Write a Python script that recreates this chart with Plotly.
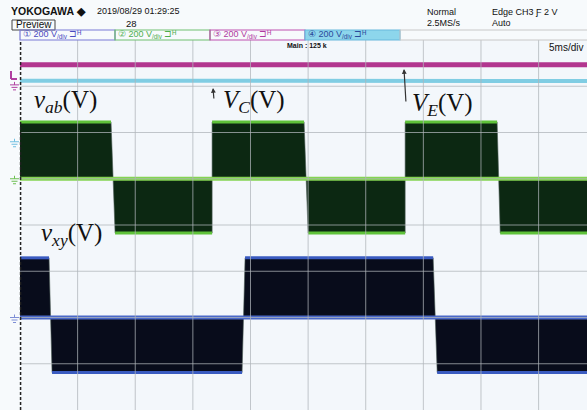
import plotly.graph_objects as go

T_END_MS = 49.2            # visible time span, 5 ms/div
VOLT_PER_DIV = 200

# CH2 : v_ab (green) - segments
vab_t_start = [0.0, 8.25, 16.67, 25.0, 33.42, 41.67]
vab_t_end = [7.9, 16.67, 24.65, 33.42, 41.4, 49.2]
vab_level = [245, -235, 245, -235, 245, -235]

# CH1 : v_xy (blue) - segments
vxy_t_start = [0.0, 2.78, 19.53, 36.2]
vxy_t_end = [2.52, 19.27, 35.85, 49.2]
vxy_level = [258, -238, 258, -238]

# CH4 : V_C (cyan) and CH3 : V_E (magenta)
vc_t = [0, 10, 20, 30, 40, 49.2]
vc_v = [264, 264, 263, 264, 264, 263]
ve_t = [0, 10, 20, 30, 40, 49.2]
ve_v = [87, 87, 88, 87, 87, 87]

# channel vertical positions (divisions from screen centre)
POS_CH1 = -2.0
POS_CH2 = 1.0
POS_CH3 = 3.03
POS_CH4 = 1.8

# ---------------- helpers ----------------
W, H = 587, 410
L, T = 20, 40
PW, PH = W - L, H - T


def fx(p):
    return (p - L) / PW


def fy(p):
    return (H - p) / PH


def to_div(vals, pos):
    return [None if v is None else pos + v / VOLT_PER_DIV for v in vals]


fig = go.Figure()


def add_channel(starts, ends, levels, pos, fill, edge, zero):
    fig.add_trace(go.Scatter(x=[0, T_END_MS], y=to_div([0, 0], pos), mode="lines",
                             line=dict(width=0, color=fill), hoverinfo="skip", showlegend=False))
    wx, wy = [], []
    ex, ey = [], []
    for s, e, l in zip(starts, ends, levels):
        wx += [s, e]
        wy += [l, l]
        ex += [s, e, None]
        ey += [l, l, None]
    fig.add_trace(go.Scatter(x=wx, y=to_div(wy, pos), mode="lines", fill="tonexty",
                             fillcolor=fill, line=dict(width=0.6, color="#4a5a54"),
                             hoverinfo="skip", showlegend=False))
    fig.add_trace(go.Scatter(x=ex, y=to_div(ey, pos), mode="lines",
                             line=dict(width=3, color=edge), hoverinfo="skip", showlegend=False))
    fig.add_trace(go.Scatter(x=[0, T_END_MS], y=to_div([0, 0], pos), mode="lines",
                             line=dict(width=4, color=zero), hoverinfo="skip", showlegend=False))


add_channel(vab_t_start, vab_t_end, vab_level, POS_CH2, "#0c2812", "#5fc23a", "#84d452")
add_channel(vxy_t_start, vxy_t_end, vxy_level, POS_CH1, "#080c1b", "#3a5bc0", "#4a68c8")

fig.add_trace(go.Scatter(x=vc_t, y=to_div(vc_v, POS_CH4), mode="lines",
                         line=dict(width=4, color="#80cde3"), hoverinfo="skip", showlegend=False))
fig.add_trace(go.Scatter(x=ve_t, y=to_div(ve_v, POS_CH3), mode="lines",
                         line=dict(width=5, color="#b2368f"), hoverinfo="skip", showlegend=False))

shapes = []
for i in range(1, 10):
    shapes.append(dict(type="line", xref="x", yref="paper", x0=5 * i, x1=5 * i, y0=0, y1=1,
                       line=dict(color="rgba(175,180,186,0.75)", width=1), layer="above"))
for j in range(-3, 4):
    shapes.append(dict(type="line", xref="paper", yref="y", x0=0, x1=1, y0=j, y1=j,
                       line=dict(color="rgba(175,180,186,0.75)", width=1), layer="above"))
shapes.append(dict(type="line", xref="paper", yref="paper", x0=0.001, x1=0.001, y0=0, y1=1,
                   line=dict(color="#222", width=1.5, dash="3px,2px"), layer="above"))


def ground(pos, color):
    ypx = 225 - pos * 46.25
    for k, (a, b) in enumerate([(10, 19), (11.5, 17.5), (13, 16)]):
        yy = ypx + k * 2.5
        shapes.append(dict(type="line", xref="paper", yref="paper", x0=fx(a), x1=fx(b),
                           y0=fy(yy), y1=fy(yy), line=dict(color=color, width=1)))
    shapes.append(dict(type="line", xref="paper", yref="paper", x0=fx(14.5), x1=fx(14.5),
                       y0=fy(ypx - 3), y1=fy(ypx), line=dict(color=color, width=1)))


ground(POS_CH2, "#6cbf50")
ground(POS_CH1, "#7f8fd6")
ground(POS_CH4, "#6fbfe0")
ground(POS_CH3, "#b040a0")
shapes.append(dict(type="line", xref="paper", yref="paper", x0=fx(11), x1=fx(11),
                   y0=fy(71), y1=fy(79), line=dict(color="#b040a0", width=2)))
shapes.append(dict(type="line", xref="paper", yref="paper", x0=fx(11), x1=fx(17),
                   y0=fy(79), y1=fy(79), line=dict(color="#b040a0", width=2)))

shapes.append(dict(type="rect", xref="paper", yref="paper", x0=fx(12), x1=fx(55),
                   y0=fy(30), y1=fy(20), line=dict(color="#444", width=1)))
tabs = [(20, 115, "#7b7bd6", None), (115, 210, "#70c070", None),
        (210, 305, "#c050b0", None), (305, 400, "#68b8dc", "#8dd6ec")]
for a, b, c, f in tabs:
    shapes.append(dict(type="rect", xref="paper", yref="paper", x0=fx(a), x1=fx(b),
                       y0=fy(40), y1=fy(30), line=dict(color=c, width=1.2),
                       fillcolor=f if f else "rgba(0,0,0,0)"))
shapes.append(dict(type="rect", xref="paper", yref="paper", x0=fx(400), x1=fx(590),
                   y0=fy(40), y1=fy(30), line=dict(color="#c8c8c8", width=1)))

ann = []
HF = "Liberation Sans Narrow, Arial Narrow, Liberation Sans, Arial, sans-serif"


def txt(x, y, s, size=10, color="#111", anchor="left", bold=False, family=HF):
    if bold:
        s = "<b>" + s + "</b>"
    ann.append(dict(xref="paper", yref="paper", x=fx(x), y=fy(y), text=s, showarrow=False,
                    xanchor=anchor, yanchor="middle", font=dict(size=size, color=color, family=family)))


txt(9, 11, "YOKOGAWA ◆", size=10.5, bold=True)
txt(95, 11, "2019/08/29 01:29:25", size=9)
txt(131, 23, "28", size=9.5, anchor="center")
txt(33.5, 25, "Preview", size=10, anchor="center")
txt(21, 35, "① 200 V<sub>/div</sub> ⊐ᴴ", size=9, color="#4a4ac0")
txt(116, 35, "② 200 V<sub>/div</sub> ⊐ᴴ", size=9, color="#4cae4c")
txt(211, 35, "③ 200 V<sub>/div</sub> ⊐ᴴ", size=9, color="#b03aa0")
txt(306, 35, "④ 200 V<sub>/div</sub> ⊐ᴴ", size=9, color="#2a4a9a")
txt(425, 12, "Normal", size=9)
txt(425, 23, "2.5MS/s", size=9)
txt(490, 12, "Edge CH3 Ƒ 2 V", size=9)
txt(490, 23, "Auto", size=9)
txt(285, 46, "Main : 125 k", size=7, bold=True)
txt(585, 47, "5ms/div", size=10, anchor="right")

SF = "Liberation Serif, Times New Roman, serif"
txt(32, 101, "<i>v</i><sub><i>ab</i></sub>(V)", size=25, family=SF)
txt(221, 101, "<i>V</i><sub><i>C</i></sub>(V)", size=25, family=SF)
txt(410, 104, "<i>V</i><sub><i>E</i></sub>(V)", size=25, family=SF)
txt(39, 235, "<i>v</i><sub><i>xy</i></sub>(V)", size=25, family=SF)

for tipx, tipy, tx, ty in [(213, 88, 214, 100), (404, 69, 406, 103)]:
    ann.append(dict(xref="paper", yref="paper", x=fx(tipx), y=fy(tipy), text="",
                    showarrow=True, ax=tx - tipx, ay=ty - tipy, arrowhead=2, arrowsize=0.8,
                    arrowwidth=1.2, arrowcolor="#333"))

fig.update_layout(
    width=W, height=H,
    margin=dict(l=L, r=0, t=T, b=0),
    paper_bgcolor="#f7fafc", plot_bgcolor="#f3f7fb",
    xaxis=dict(range=[0, T_END_MS], showgrid=False, zeroline=False, showticklabels=False,
               ticks="", showline=False),
    yaxis=dict(range=[-4, 4], showgrid=False, zeroline=False, showticklabels=False,
               ticks="", showline=False),
    shapes=shapes, annotations=ann, showlegend=False,
)

fig.write_html("out.html", config={"displayModeBar": False},
               post_script="document.body.style.margin='0';document.body.style.overflow='hidden';")
